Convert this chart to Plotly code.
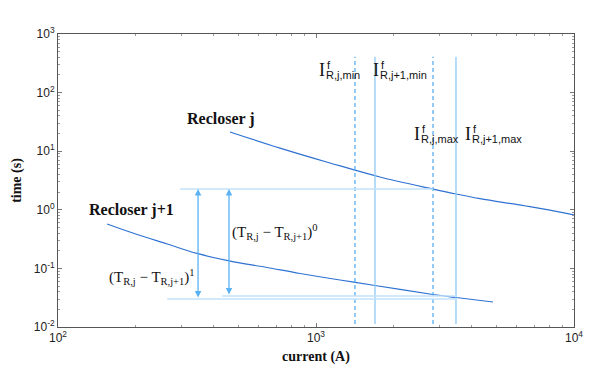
import numpy as np
import plotly.graph_objects as go

# curve readings (current in A, time in s)
I_j = [464, 725, 1133, 1770, 2841, 3488, 4322, 6752, 10000]
T_j = [21.3, 11.3, 6.3, 3.63, 2.26, 1.86, 1.55, 1.13, 0.82]

I_j1 = [155, 195, 265, 346, 456, 646, 867, 1239, 1693, 2841, 3488, 4853]
T_j1 = [0.573, 0.402, 0.261, 0.18, 0.136, 0.1036, 0.0818, 0.0634, 0.0511, 0.0359, 0.0319, 0.0267]

# fault current limits
I_jmin, I_j1min, I_jmax, I_j1max = 1416, 1693, 2841, 3488
T_top = 2.26
T_bot0 = 0.0338
T_bot1 = 0.030

# tick values
x_ticks = [100, 1000, 10000]
x_labels = ["10<sup>2</sup>", "10<sup>3</sup>", "10<sup>4</sup>"]
y_ticks = [0.01, 0.1, 1, 10, 100, 1000]
y_labels = ["10<sup>-2</sup>", "10<sup>-1</sup>", "10<sup>0</sup>", "10<sup>1</sup>", "10<sup>2</sup>", "10<sup>3</sup>"]

curve_col = "#2f72d2"
dash_col = "#5aaef2"
solid_col = "#8cc9f8"
hline_col = "#c3e2fb"
arrow_col = "#5ab2f4"

fig = go.Figure()
fig.add_trace(go.Scatter(x=I_j, y=T_j, mode="lines", line=dict(color=curve_col, width=1.2, shape="spline")))
fig.add_trace(go.Scatter(x=I_j1, y=T_j1, mode="lines", line=dict(color=curve_col, width=1.2, shape="spline")))

# vertical lines
for xv, dash, col in [(I_jmin, "dash", dash_col), (I_jmax, "dash", dash_col),
                      (I_j1min, "solid", solid_col), (I_j1max, "solid", solid_col)]:
    fig.add_trace(go.Scatter(x=[xv, xv], y=[0.0112, 410], mode="lines",
                             line=dict(color=col, width=1.3, dash="4px,3px" if dash == "dash" else "solid")))

# horizontal reference lines
fig.add_trace(go.Scatter(x=[297, I_jmax], y=[T_top, T_top], mode="lines", line=dict(color=hline_col, width=1.5)))
fig.add_trace(go.Scatter(x=[433, I_j1max], y=[T_bot0, T_bot0], mode="lines", line=dict(color=hline_col, width=1.5)))
fig.add_trace(go.Scatter(x=[265, I_j1max], y=[T_bot1, T_bot1], mode="lines", line=dict(color=hline_col, width=1.5)))

# minor tick values on a hidden overlay axis
minor_x = [m * 10 ** d for d in (2, 3) for m in range(2, 10)]
minor_y = [m * 10.0 ** d for d in (-2, -1, 0, 1, 2) for m in range(2, 10)]
fig.add_trace(go.Scatter(x=[100], y=[1], xaxis="x2", yaxis="y2", mode="markers",
                         marker=dict(opacity=0), hoverinfo="skip"))

L = np.log10
serif = "Liberation Serif"
dark = "#111"

# double arrows
for xa, yb in [(349, T_bot1), (460, T_bot0)]:
    fig.add_annotation(x=L(xa), y=L(T_top), ax=L(xa), ay=L(yb), xref="x", yref="y", axref="x", ayref="y",
                       showarrow=True, arrowside="end+start", arrowhead=2, arrowsize=1, arrowwidth=1.3,
                       arrowcolor=arrow_col, text="")

fig.add_annotation(x=L(428), y=L(35.4), text="<b>Recloser j</b>", showarrow=False,
                   font=dict(family=serif, size=16, color=dark))
fig.add_annotation(x=L(192), y=L(0.99), text="<b>Recloser j+1</b>", showarrow=False,
                   font=dict(family=serif, size=16, color=dark))

fig.add_annotation(x=L(693), y=L(0.418), text="(T<sub>R,j</sub> − T<sub>R,j+1</sub>)<sup>0</sup>", showarrow=False,
                   font=dict(family=serif, size=15, color=dark))
fig.add_annotation(x=L(231), y=L(0.0713), text="(T<sub>R,j</sub> − T<sub>R,j+1</sub>)<sup>1</sup>", showarrow=False,
                   font=dict(family=serif, size=15, color=dark))

# current limit labels: I with superscript f and subscript stacked
for xl, yl, sub in [(1027, 243, "R,j,min"), (1663, 243, "R,j+1,min"),
                    (2399, 20.0, "R,j,max"), (3780, 20.0, "R,j+1,max")]:
    fig.add_annotation(x=L(xl), y=L(yl), text="I", showarrow=False, xanchor="left", yanchor="middle",
                       xshift=-2, font=dict(family=serif, size=18, color=dark))
    fig.add_annotation(x=L(xl), y=L(yl), text="f", showarrow=False, xanchor="left", yanchor="middle",
                       xshift=6, yshift=5, font=dict(family="Liberation Sans", size=11, color=dark))
    fig.add_annotation(x=L(xl), y=L(yl), text=sub, showarrow=False, xanchor="left", yanchor="middle",
                       xshift=5, yshift=-5, font=dict(family="Liberation Sans", size=11, color=dark))

axis_common = dict(type="log", ticks="inside", ticklen=4, tickcolor="#777", showline=True, linecolor="#555",
                   linewidth=1, mirror="ticks", showgrid=False, zeroline=False, automargin=False,
                   tickfont=dict(family="Liberation Sans", size=12, color="#222"))

fig.update_xaxes(range=[2, 4], tickvals=x_ticks, ticktext=x_labels,
                 title=dict(text="<b>current (A)</b>", standoff=6,
                            font=dict(family=serif, size=14, color=dark)), **axis_common)
fig.update_yaxes(range=[-2, 3], tickvals=y_ticks, ticktext=y_labels,
                 title=dict(text="<b>time (s)</b>", standoff=8,
                            font=dict(family=serif, size=14, color=dark)), **axis_common)

minor_common = dict(type="log", ticks="inside", ticklen=2, tickcolor="#999", showline=False,
                    showgrid=False, zeroline=False, showticklabels=False, automargin=False)
fig.update_layout(
    xaxis2=dict(overlaying="x", range=[2, 4], tickvals=minor_x, mirror="ticks", anchor="y", **minor_common),
    yaxis2=dict(overlaying="y", range=[-2, 3], tickvals=minor_y, mirror="ticks", anchor="x", **minor_common),
)

# page body adds an 8px offset, so the figure is a bit smaller than the window
fig.update_layout(width=605, height=375, margin=dict(l=50, r=39, t=26, b=56),
                  plot_bgcolor="white", paper_bgcolor="white", showlegend=False)

fig.write_html("out.html")
